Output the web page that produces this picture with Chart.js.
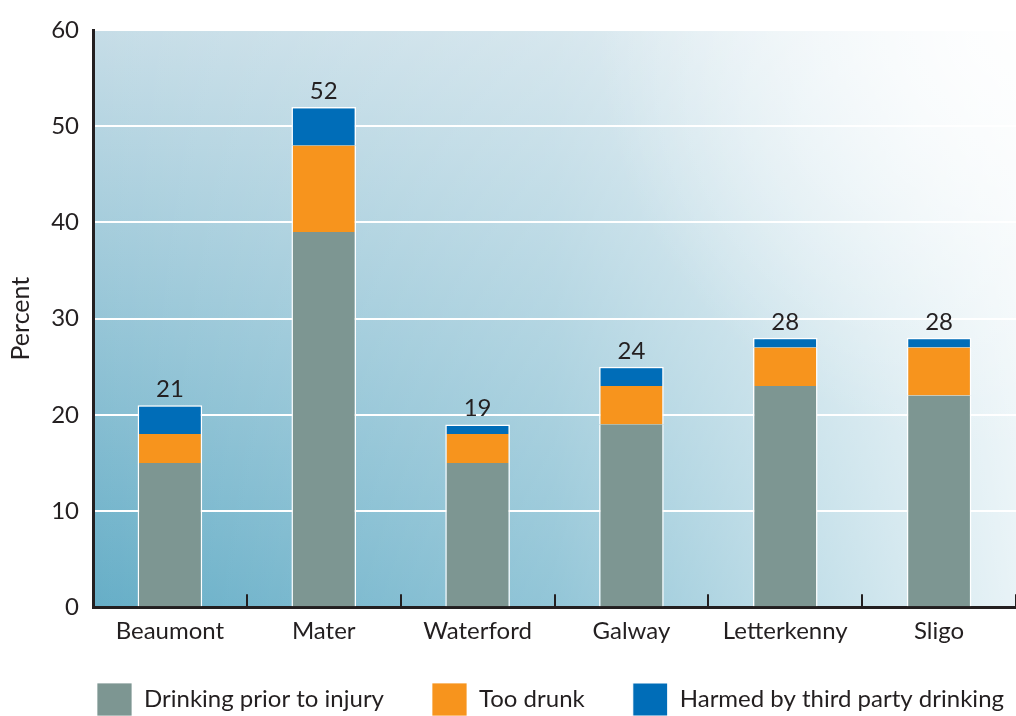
<!DOCTYPE html>
<html>
<head>
<meta charset="utf-8">
<script src="https://cdn.jsdelivr.net/npm/chart.js@4.4.1/dist/chart.umd.min.js"></script>
<style>
  html, body { margin: 0; padding: 0; background: #ffffff; }
  #wrap { width: 1016px; height: 716px; position: relative; }
</style>
</head>
<body>
<div id="wrap"><canvas id="c" width="1016" height="716"></canvas></div>
<script>
const categories = ['Beaumont', 'Mater', 'Waterford', 'Galway', 'Letterkenny', 'Sligo'];
const drinkingPrior = [15, 39, 15, 19, 23, 22];
const tooDrunk = [3, 9, 3, 4, 4, 5];
const harmedThirdParty = [3, 4, 1, 2, 1, 1];
const totalLabels = ['21', '52', '19', '24', '28', '28'];
const yTicks = [0, 10, 20, 30, 40, 50, 60];

const TEXT = '#231f20';
const FONT = 'Lato';

const bgPlugin = {
  id: 'bg',
  beforeDraw(chart) {
    const { ctx, chartArea: a } = chart;
    ctx.save();
    const v = ctx.createLinearGradient(0, a.top, 0, a.bottom);
    v.addColorStop(0, '#c6dde7');
    v.addColorStop(1, '#66aec7');
    ctx.fillStyle = v;
    ctx.fillRect(a.left, a.top, a.right - a.left, a.bottom - a.top);
    const h = ctx.createLinearGradient(a.left, 0, a.right, 0);
    h.addColorStop(0, 'rgba(255,255,255,0)');
    h.addColorStop(0.5, 'rgba(255,255,255,0.29)');
    h.addColorStop(1, 'rgba(255,255,255,0.85)');
    ctx.fillStyle = h;
    ctx.fillRect(a.left, a.top, a.right - a.left, a.bottom - a.top);
    const r = ctx.createRadialGradient(a.right, a.top, 0, a.right, a.top, 420);
    r.addColorStop(0, 'rgba(255,255,255,0.9)');
    r.addColorStop(1, 'rgba(255,255,255,0)');
    ctx.fillStyle = r;
    ctx.fillRect(a.left, a.top, a.right - a.left, a.bottom - a.top);
    ctx.restore();
  }
};

const totalsPlugin = {
  id: 'totals',
  afterDatasetsDraw(chart) {
    const { ctx } = chart;
    const meta = chart.getDatasetMeta(chart.data.datasets.length - 1);
    ctx.save();
    ctx.fillStyle = TEXT;
    ctx.font = '24px ' + FONT;
    ctx.textAlign = 'center';
    ctx.textBaseline = 'alphabetic';
    meta.data.forEach((bar, i) => {
      ctx.fillText(totalLabels[i], bar.x, bar.y - 8);
    });
    ctx.restore();
  }
};

const legendShift = {
  id: 'legendShift',
  afterLayout(chart) {
    const lg = chart.legend;
    if (lg) {
      lg.left += 36; lg.right += 36;
      lg.top -= 34; lg.bottom -= 34;
    }
  }
};

const sideBorder = { top: 0, right: 1.5, bottom: 0, left: 1.5 };
const topBorder = { top: 1.5, right: 1.5, bottom: 0, left: 1.5 };

new Chart(document.getElementById('c'), {
  type: 'bar',
  data: {
    labels: categories,
    datasets: [
      { label: 'Drinking prior to injury', data: drinkingPrior, backgroundColor: '#7d9692', borderColor: '#ffffff', borderWidth: sideBorder, borderSkipped: false },
      { label: 'Too drunk', data: tooDrunk, backgroundColor: '#f7941d', borderColor: '#ffffff', borderWidth: sideBorder, borderSkipped: false },
      { label: 'Harmed by third party drinking', data: harmedThirdParty, backgroundColor: '#006db8', borderColor: '#ffffff', borderWidth: topBorder, borderSkipped: false }
    ]
  },
  options: {
    responsive: false,
    animation: false,
    devicePixelRatio: 1,
    layout: { padding: { top: 30, right: 0, left: 0, bottom: -44 } },
    datasets: { bar: { barPercentage: 0.42, categoryPercentage: 1.0 } },
    plugins: {
      legend: {
        position: 'bottom',
        align: 'end',
        labels: {
          boxWidth: 35, boxHeight: 33, padding: 48,
          color: TEXT,
          font: { family: FONT, size: 24 }
        }
      },
      tooltip: { enabled: false }
    },
    scales: {
      x: {
        stacked: true,
        grid: { offset: true, drawOnChartArea: false, drawTicks: true, tickLength: -13, color: TEXT, lineWidth: 2 },
        border: { display: true, color: TEXT, width: 3 },
        ticks: { color: TEXT, font: { family: FONT, size: 24 }, padding: 23 }
      },
      y: {
        stacked: true,
        min: 0, max: 60,
        afterBuildTicks(scale) { scale.ticks = yTicks.map(v => ({ value: v })); },
        afterFit(scale) { scale.width = 93; },
        grid: { color: '#ffffff', lineWidth: 2, drawTicks: false },
        border: { display: true, color: TEXT, width: 3 },
        ticks: { color: TEXT, font: { family: FONT, size: 24 }, padding: 14 },
        title: { display: true, text: 'Percent', color: TEXT, font: { family: FONT, size: 25 }, padding: { top: 6, bottom: 0 } }
      }
    }
  },
  plugins: [bgPlugin, totalsPlugin, legendShift]
});
</script>
</body>
</html>
